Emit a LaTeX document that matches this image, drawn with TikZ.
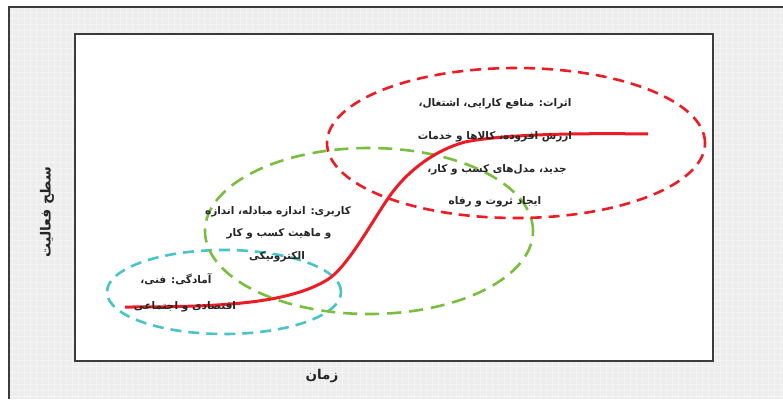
\documentclass[tikz,border=0pt]{standalone}
\usepackage{fontspec}
\newfontfamily\arabicfont[Script=Arabic]{DejaVu Sans}
\TeXXeTstate=1
\definecolor{stagered}{RGB}{237,28,36}
\definecolor{stagegreen}{RGB}{122,190,62}
\definecolor{stagecyan}{RGB}{72,196,202}
\definecolor{framegray}{RGB}{60,60,60}
\tikzset{
  txt/.style={font=\arabicfont\fontsize{10.5}{12}\selectfont\bfseries,text=black!85,inner sep=1pt},
  axislabel/.style={txt,font=\arabicfont\fontsize{13.5}{15}\selectfont\bfseries},
  stage/.style={line width=2.6pt,dash pattern=on 11pt off 7pt}
}
\begin{document}
\begin{tikzpicture}[x=1pt,y=-1pt]
            \useasboundingbox (0,0) rectangle (783,399);
            % paper with grid
            \fill[gray!14] (9,7) rectangle (783,399);
            \draw[white!70!gray!30,line width=0.4pt,step=6pt] (9,7) grid (783,399);
            \draw[framegray,line width=2pt] (9,399) -- (9,7) -- (783,7);
            \draw[framegray,line width=1.5pt,fill=white] (75,34) rectangle (713,361);
            % stages
            \draw[stage,stagecyan] (224,292) ellipse [x radius=117pt,y radius=42pt];
            \draw[stage,stagegreen,dash pattern=on 14pt off 8pt] (369,231) ellipse [x radius=164pt,y radius=83pt];
            \draw[stage,stagered] (516,143) ellipse [x radius=189pt,y radius=75pt];
            % growth curve
            \coordinate (start) at (125,307);
            \coordinate (knee) at (327,280);
            \coordinate (mid) at (389,197);
            \coordinate (shoulder) at (465,142);
            \coordinate (finish) at (648,134);
            \draw[stagered,line width=3pt] (start) .. controls (220,307) and (287,304) .. (knee)
                .. controls (347,268) and (371,223) .. (mid)
                .. controls (407,171) and (435,150) .. (shoulder)
                .. controls (505,134) and (580,133) .. (finish);
            % labels
            \node[txt] (eff1) at (495,104) {\beginR اثرات: منافع کارایی، اشتغال،\endR};
            \node[txt] (eff2) at (495,137) {\beginR ارزش افزوده، کالاها و خدمات\endR};
            \node[txt] (eff3) at (497,170) {\beginR جدید، مدل‌های کسب و کار،\endR};
            \node[txt] (eff4) at (495,202) {\beginR ایجاد ثروت و رفاه\endR};
            \node[txt] (use1) at (278,212) {\beginR کاربری: اندازه مبادله، اندازه\endR};
            \node[txt] (use2) at (279,234) {\beginR و ماهیت کسب و کار\endR};
            \node[txt] (use3) at (277,257) {\beginR الکترونیکی\endR};
            \node[txt] (ready1) at (176,279) {\beginR آمادگی: فنی،\endR};
            \node[txt] (ready2) at (185,307) {\beginR اقتصادی و اجتماعی\endR};
            \node[axislabel] (xaxis) at (322,376) {\beginR زمان\endR};
            \node[axislabel,font=\arabicfont\fontsize{14}{16}\selectfont\bfseries,rotate=90] (yaxis) at (47,212) {\beginR سطح فعالیت\endR};
\end{tikzpicture}
\end{document}
